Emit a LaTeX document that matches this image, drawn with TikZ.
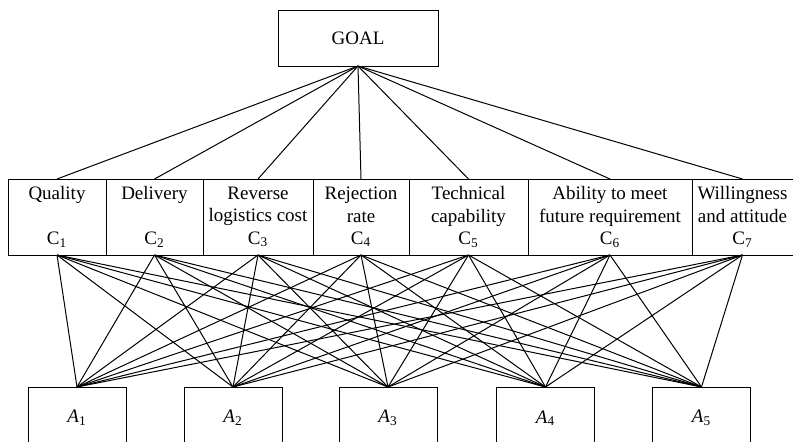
\documentclass[tikz,border=0pt]{standalone}
\usepackage{fontspec}
\setmainfont{Liberation Serif}
\usetikzlibrary{positioning}

\tikzset{
  box/.style={draw, rectangle, inner sep=0pt, outer sep=0pt, align=center,
    font=\fontsize{9.5}{11.2}\selectfont},
  crit/.style={box, minimum height=38pt},
  alt/.style={box, minimum width=49pt, minimum height=31pt},
}

\begin{document}
\begin{tikzpicture}[x=0.5pt, y=-0.5pt, line width=0.5pt]
    \useasboundingbox (0,0) rectangle (793,441);

    \node[box, minimum width=80pt, minimum height=28pt] (goal) at (358,38) {GOAL};

    % criteria
    \node[crit, minimum width=49pt] (c1) at (57,217) {Quality\\~\\C\textsubscript{1}};
    \node[crit, minimum width=48.5pt] (c2) at (154.5,217) {Delivery\\~\\C\textsubscript{2}};
    \node[crit, minimum width=55pt] (c3) at (258,217) {Reverse\\logistics cost\\C\textsubscript{3}};
    \node[crit, minimum width=48pt] (c4) at (361,217) {Rejection\\rate\\C\textsubscript{4}};
    \node[crit, minimum width=59.5pt] (c5) at (468.5,217) {Technical\\capability\\C\textsubscript{5}};
    \node[crit, minimum width=82pt] (c6) at (610,217) {Ability to meet\\future requirement\\C\textsubscript{6}};
    \node[crit, minimum width=50.5pt] (c7) at (742.5,217) {Willingness\\and attitude\\C\textsubscript{7}};

    % alternatives
    \node[alt] (a1) at (77,418) {\textit{A}\textsubscript{1}};
    \node[alt] (a2) at (233,418) {\textit{A}\textsubscript{2}};
    \node[alt] (a3) at (388,418) {\textit{A}\textsubscript{3}};
    \node[alt] (a4) at (545.5,418) {\textit{A}\textsubscript{4}};
    \node[alt] (a5) at (701.5,418) {\textit{A}\textsubscript{5}};

    \foreach \i in {1,...,7} {
        \draw (goal.south) -- (c\i.north);
        \foreach \j in {1,...,5}
            \draw (c\i.south) -- (a\j.north);
    }
\end{tikzpicture}
\end{document}
